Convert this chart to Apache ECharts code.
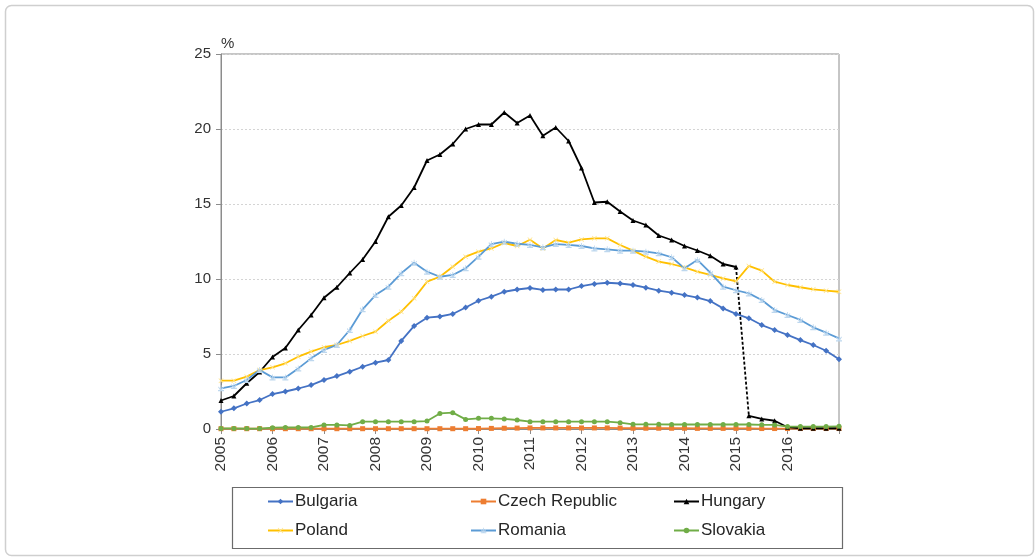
<!DOCTYPE html>
<html>
<head>
<meta charset="utf-8">
<script src="https://cdn.jsdelivr.net/npm/echarts@6/dist/echarts.min.js"></script>
<style>
html,body{margin:0;padding:0;background:#fff;}
#chart{width:1036px;height:558px;}
</style>
</head>
<body>
<div id="chart"></div>
<script>
const quarters = [
 '2005Q1','2005Q2','2005Q3','2005Q4','2006Q1','2006Q2','2006Q3','2006Q4',
 '2007Q1','2007Q2','2007Q3','2007Q4','2008Q1','2008Q2','2008Q3','2008Q4',
 '2009Q1','2009Q2','2009Q3','2009Q4','2010Q1','2010Q2','2010Q3','2010Q4',
 '2011Q1','2011Q2','2011Q3','2011Q4','2012Q1','2012Q2','2012Q3','2012Q4',
 '2013Q1','2013Q2','2013Q3','2013Q4','2014Q1','2014Q2','2014Q3','2014Q4',
 '2015Q1','2015Q2','2015Q3','2015Q4','2016Q1','2016Q2','2016Q3','2016Q4',
 '2017Q1'
];
const yTicks = [0, 5, 10, 15, 20, 25];
const seriesNames = ['Bulgaria','Czech Republic','Hungary','Poland','Romania','Slovakia'];

const bulgaria = [1.15,1.38,1.7,1.93,2.33,2.5,2.7,2.93,3.27,3.53,3.82,4.15,4.42,4.6,5.87,6.87,
 7.42,7.5,7.67,8.1,8.55,8.82,9.15,9.3,9.4,9.27,9.3,9.3,9.53,9.67,9.75,9.7,
 9.6,9.42,9.22,9.09,8.93,8.76,8.53,8.04,7.67,7.38,6.93,6.6,6.27,5.93,5.6,5.22,4.65];
const czech = [0.02,0.02,0.02,0.02,0.02,0.02,0.02,0.02,0.02,0.02,0.02,0.02,0.02,0.02,0.02,0.02,
 0.02,0.02,0.02,0.02,0.03,0.04,0.05,0.06,0.07,0.07,0.07,0.07,0.07,0.07,0.07,0.06,
 0.05,0.05,0.05,0.05,0.05,0.04,0.04,0.04,0.04,0.04,0.03,0.03,0.03,0.03,0.03,0.03,0.03];
const hungaryA = [1.9,2.2,3.05,3.8,4.8,5.4,6.6,7.6,8.75,9.45,10.4,11.3,12.5,14.15,14.9,16.1,
 17.9,18.3,19.0,20.0,20.3,20.3,21.1,20.4,20.9,19.55,20.1,19.2,17.4,15.1,15.15,14.5,
 13.9,13.6,12.9,12.6,12.2,11.9,11.55,11.0,10.8,null,null,null,null,null,null,null,null];
const hungaryB = [null,null,null,null,null,null,null,null,null,null,null,null,null,null,null,null,
 null,null,null,null,null,null,null,null,null,null,null,null,null,null,null,null,
 null,null,null,null,null,null,null,null,null,0.88,0.67,0.55,0.12,0.05,0.05,0.05,0.05];
const poland = [3.22,3.22,3.49,3.93,4.11,4.38,4.82,5.16,5.45,5.6,5.87,6.2,6.49,7.22,7.82,8.71,
 9.82,10.15,10.82,11.49,11.82,12.04,12.4,12.2,12.62,12.04,12.6,12.42,12.64,12.71,12.71,12.27,
 11.89,11.49,11.16,11.0,10.78,10.49,10.27,10.04,9.85,10.87,10.56,9.82,9.6,9.45,9.31,9.22,9.15];
const romania = [2.71,2.87,3.27,3.93,3.44,3.44,4.04,4.71,5.27,5.6,6.6,7.98,8.93,9.49,10.38,11.09,
 10.49,10.15,10.27,10.71,11.49,12.33,12.49,12.35,12.27,12.11,12.33,12.27,12.2,12.04,11.98,11.89,
 11.89,11.82,11.71,11.45,10.71,11.27,10.42,9.49,9.25,9.04,8.6,7.93,7.6,7.27,6.78,6.42,6.04];
const slovakia = [0.04,0.04,0.03,0.03,0.09,0.1,0.1,0.1,0.27,0.27,0.24,0.49,0.49,0.49,0.49,0.49,
 0.53,1.04,1.09,0.64,0.71,0.71,0.67,0.6,0.49,0.49,0.49,0.49,0.49,0.49,0.49,0.42,
 0.31,0.31,0.31,0.3,0.3,0.3,0.3,0.3,0.3,0.3,0.28,0.27,0.16,0.16,0.16,0.16,0.18];

// dashed connector between the last value before the break and the first after it
const breakFrom = 40, breakTo = 41;
const hungaryLink = quarters.map((q, i) =>
  i === breakFrom ? hungaryA[i] : (i === breakTo ? hungaryB[i] : null));

const FONT = '"Liberation Sans", Arial, sans-serif';
const xShape = 'path://M0,1L1,0L5,4L9,0L10,1L6,5L10,9L9,10L5,6L1,10L0,9L4,5Z';
const starShape = 'path://M4.3,0H5.7V4.3L8.8,1.2L9.8,2.2L6.7,5.3H10V6.7H0V5.3H3.3L0.2,2.2L1.2,1.2L4.3,4.3Z';

function line(name, data, color, symbol, size, symColor, extra) {
  return Object.assign({
    name, type: 'line', data,
    symbol, symbolSize: size, showSymbol: true,
    lineStyle: { color, width: 1.8 },
    itemStyle: { color: symColor || color },
    emphasis: { disabled: true },
    animation: false, z: 3
  }, extra || {});
}

const chart = echarts.init(document.getElementById('chart'), null, { renderer: 'canvas' });

const colX = [262, 465, 668];
const rowY = [488, 517];
const legends = seriesNames.map((n, k) => ({
  left: colX[k % 3], top: rowY[Math.floor(k / 3)],
  data: [n],
  orient: 'horizontal',
  itemWidth: 25, itemHeight: 7, itemGap: 2,
  selectedMode: false,
  textStyle: { fontFamily: FONT, fontSize: 17, color: '#262626', padding: [0, 0, 0, -3] }
}));

chart.setOption({
  backgroundColor: '#fff',
  animation: false,
  grid: { left: 221, right: 197, top: 54, bottom: 129, show: true,
          borderColor: '#8c8c8c', borderWidth: 1, containLabel: false },
  xAxis: {
    type: 'category', data: quarters, boundaryGap: false,
    axisLine: { show: true, lineStyle: { color: '#8c8c8c', width: 1 } },
    axisTick: { show: true, length: 5, interval: (i) => i % 4 === 0,
                lineStyle: { color: '#8c8c8c' } },
    axisLabel: { interval: (i) => i % 4 === 0 && i < quarters.length - 1,
                 formatter: (v) => v.slice(0, 4),
                 rotate: 90, margin: 8, fontFamily: FONT, fontSize: 15.5, color: '#333333' },
    splitLine: { show: false }
  },
  yAxis: {
    type: 'value', min: yTicks[0], max: yTicks[yTicks.length - 1], interval: 5,
    name: '%', nameLocation: 'end', nameGap: 3,
    nameTextStyle: { fontFamily: FONT, fontSize: 15, color: '#333333', align: 'left' },
    axisLine: { show: true, lineStyle: { color: '#8c8c8c', width: 1 } },
    axisTick: { show: true, length: 5, lineStyle: { color: '#8c8c8c' } },
    axisLabel: { margin: 10, fontFamily: FONT, fontSize: 15, color: '#333333' },
    splitLine: { show: true, lineStyle: { color: '#d4d4d4', type: [2, 2], width: 1 } }
  },
  legend: legends,
  graphic: [
    { type: 'rect', left: 3, top: 3, shape: { width: 1028, height: 550, r: 6 },
      style: { fill: 'none', stroke: '#cfcfcf', lineWidth: 1.5 }, silent: true, z: -10 },
    { type: 'rect', left: 230, top: 485, shape: { width: 610, height: 61 },
      style: { fill: 'none', stroke: '#6b6b6b', lineWidth: 1.2 }, silent: true }
  ],
  series: [
    line('Bulgaria', bulgaria, '#4472C4', 'diamond', 6),
    line('Czech Republic', czech, '#ED7D31', 'rect', 5),
    line('Hungary', hungaryA, '#000000', 'triangle', 5),
    line('Hungary', hungaryB, '#000000', 'triangle', 5),
    line('Hungary', hungaryLink, '#000000', 'none', 0, null,
         { lineStyle: { color: '#000000', width: 1.8, type: [3, 2] }, z: 2 }),
    line('Poland', poland, '#FFC000', xShape, 5, '#FFE38A'),
    line('Romania', romania, '#5B9BD5', starShape, 6, '#BDD7EE'),
    line('Slovakia', slovakia, '#70AD47', 'circle', 5)
  ]
});
</script>
</body>
</html>
